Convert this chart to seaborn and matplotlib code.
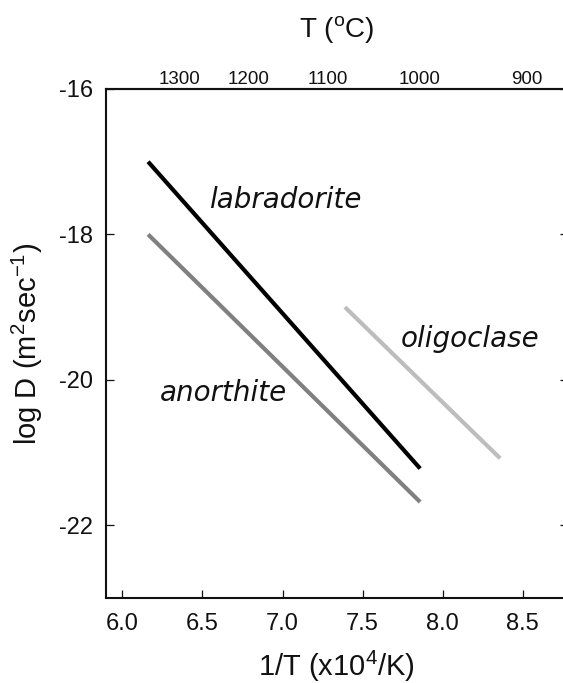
import matplotlib
matplotlib.use("Agg")
import matplotlib.pyplot as plt
import pandas as pd
import seaborn as sns

# Arrhenius lines for Sr diffusion in plagioclase
minerals = ["labradorite", "anorthite", "oligoclase"]
inv_t_start = [6.16, 6.16, 7.39]      # 1/T (x10^4/K)
inv_t_end = [7.86, 7.86, 8.36]
logd_start = [-17.0, -18.0, -19.0]    # log D (m^2/s)
logd_end = [-21.22, -21.68, -21.08]
line_colors = ["#000000", "#808080", "#bdbdbd"]

# label anchors (data coords)
label_x = [7.02, 6.63, 8.17]
label_y = [-17.53, -20.18, -19.44]

x_ticks = [6.0, 6.5, 7.0, 7.5, 8.0, 8.5]
y_ticks = [-22, -20, -18, -16]
celsius_ticks = [1300, 1200, 1100, 1000, 900]

sns.set_style("ticks")
plt.rcParams["font.family"] = ["Liberation Sans", "DejaVu Sans"]
plt.rcParams["mathtext.fontset"] = "custom"
plt.rcParams["mathtext.rm"] = "Liberation Sans"
plt.rcParams["mathtext.it"] = "Liberation Sans:italic"
plt.rcParams["axes.unicode_minus"] = False

rows = []
for name, x0, x1, y0, y1 in zip(minerals, inv_t_start, inv_t_end, logd_start, logd_end):
    rows.append({"mineral": name, "invT": x0, "logD": y0})
    rows.append({"mineral": name, "invT": x1, "logD": y1})
df = pd.DataFrame(rows)

fig = plt.figure(figsize=(5.63, 6.83), dpi=100)
ax = fig.add_axes([0.1877, 0.1245, 0.8212, 0.7452])

sns.lineplot(data=df, x="invT", y="logD", hue="mineral", hue_order=minerals,
             palette=dict(zip(minerals, line_colors)), linewidth=3.0,
             sort=False, estimator=None, legend=False, ax=ax,
             solid_capstyle="butt")

for name, lx, ly in zip(minerals, label_x, label_y):
    ax.text(lx, ly, name, ha="center", va="center", fontsize=20,
            style="italic", family=["DejaVu Sans"], color="#111111")

ax.set_xlim(5.895, 8.784)
ax.set_ylim(-23, -16)
ax.set_xticks(x_ticks)
ax.set_xticklabels([f"{v:.1f}" for v in x_ticks])
ax.set_yticks(y_ticks)
ax.set_yticklabels([str(v) for v in y_ticks])

for s in ax.spines.values():
    s.set_linewidth(1.5)
    s.set_color("#111111")

ax.tick_params(axis="both", direction="in", length=6, width=0.9,
               labelsize=17, colors="#111111")
ax.tick_params(axis="y", right=True, pad=9)
ax.tick_params(axis="x", top=False, pad=11)

ax.set_xlabel("1/T (x10$^{4}$/K)", fontsize=21, labelpad=10, color="#111111")
ax.set_ylabel("log D (m$^{2}$sec$^{-1}$)", fontsize=21, labelpad=10, color="#111111")

# temperature scale along the top
top = ax.secondary_xaxis("top", functions=(lambda x: 1e4 / x - 273.15,
                                           lambda t: 1e4 / (t + 273.15)))
top.set_xticks(celsius_ticks)
top.set_xticklabels([str(v) for v in celsius_ticks])
top.tick_params(length=0, labelsize=13.5, pad=1, colors="#111111")
top.spines["top"].set_linewidth(1.5)
top.set_xlabel("T ($^{\\rm o}$C)", fontsize=20, labelpad=24, color="#111111")

fig.savefig("out.png", dpi=100, facecolor="white")
